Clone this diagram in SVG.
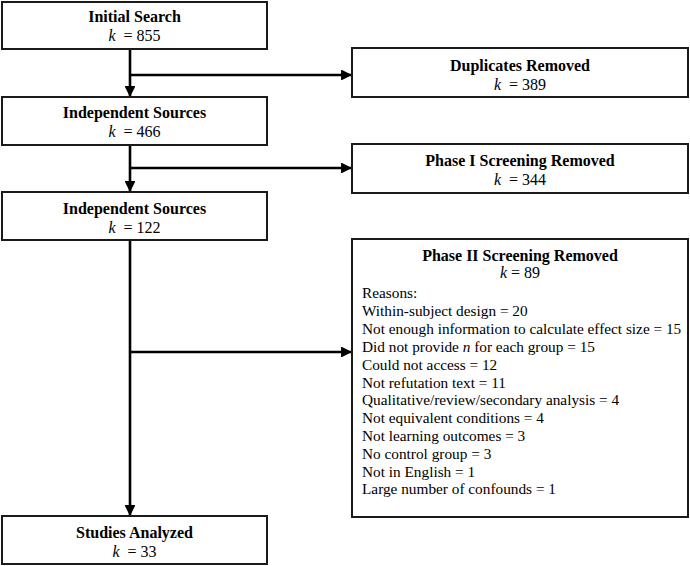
<svg xmlns="http://www.w3.org/2000/svg" width="690" height="566" viewBox="0 0 690 566">
<defs>
<marker id="ah" viewBox="0 0 10 10" refX="10" refY="5" markerWidth="4.2" markerHeight="4.2" markerUnits="strokeWidth" orient="auto">
<path d="M0,0 L10,5 L0,10 z" fill="#000"/>
</marker>
<style>
.box{fill:#fff;stroke:#1a1a1a;stroke-width:2}
.t{font-family:"Liberation Serif","Times New Roman",serif;font-size:16px;fill:#000;text-anchor:middle}
.b{font-weight:bold}
.i{font-style:italic}
.r{font-family:"Liberation Serif","Times New Roman",serif;font-size:15.3px;fill:#000}
.c{fill:none;stroke:#000;stroke-width:2.6}
</style>
</defs>
<rect width="690" height="566" fill="#fff"/>
<g id="connectors">
<line class="c" x1="130" y1="49" x2="130" y2="97" marker-end="url(#ah)"/>
<line class="c" x1="130" y1="75" x2="352" y2="75" marker-end="url(#ah)"/>
<line class="c" x1="130" y1="145" x2="130" y2="192" marker-end="url(#ah)"/>
<line class="c" x1="130" y1="168" x2="352" y2="168" marker-end="url(#ah)"/>
<line class="c" x1="130" y1="240" x2="130" y2="516" marker-end="url(#ah)"/>
<line class="c" x1="130" y1="352" x2="352" y2="352" marker-end="url(#ah)"/>
</g>
<g id="initial">
<rect class="box" x="2" y="2" width="265" height="47"/>
<text class="t b" x="134.5" y="22">Initial Search</text>
<text class="t" x="134.5" y="41"><tspan class="i">k</tspan><tspan dx="4"> = 855</tspan></text>
</g>
<g id="independent1">
<rect class="box" x="2" y="97" width="265" height="48"/>
<text class="t b" x="134.5" y="118">Independent Sources</text>
<text class="t" x="134.5" y="137"><tspan class="i">k</tspan><tspan dx="4"> = 466</tspan></text>
</g>
<g id="independent2">
<rect class="box" x="2" y="192" width="265" height="48"/>
<text class="t b" x="134.5" y="214">Independent Sources</text>
<text class="t" x="134.5" y="233"><tspan class="i">k</tspan><tspan dx="4"> = 122</tspan></text>
</g>
<g id="analyzed">
<rect class="box" x="2" y="516" width="265" height="48"/>
<text class="t b" x="134.5" y="538">Studies Analyzed</text>
<text class="t" x="134.5" y="557"><tspan class="i">k</tspan><tspan dx="4"> = 33</tspan></text>
</g>
<g id="duplicates">
<rect class="box" x="352" y="48" width="336" height="49"/>
<text class="t b" x="520" y="71">Duplicates Removed</text>
<text class="t" x="520" y="90"><tspan class="i">k</tspan><tspan dx="4"> = 389</tspan></text>
</g>
<g id="phase1">
<rect class="box" x="352" y="144" width="336" height="49"/>
<text class="t b" x="520" y="166">Phase I Screening Removed</text>
<text class="t" x="520" y="185"><tspan class="i">k</tspan><tspan dx="4"> = 344</tspan></text>
</g>
<g id="phase2">
<rect class="box" x="352" y="239" width="336" height="278"/>
<text class="t b" x="520" y="261">Phase II Screening Removed</text>
<text class="t" x="520" y="278"><tspan class="i">k</tspan> = 89</text>
<text class="r" x="362" y="298">Reasons:</text>
<text class="r" x="362" y="316">Within-subject design = 20</text>
<text class="r" x="362" y="334">Not enough information to calculate effect size = 15</text>
<text class="r" x="362" y="352">Did not provide <tspan class="i">n</tspan> for each group = 15</text>
<text class="r" x="362" y="370">Could not access = 12</text>
<text class="r" x="362" y="388">Not refutation text = 11</text>
<text class="r" x="362" y="405">Qualitative/review/secondary analysis = 4</text>
<text class="r" x="362" y="423">Not equivalent conditions = 4</text>
<text class="r" x="362" y="441">Not learning outcomes = 3</text>
<text class="r" x="362" y="459">No control group = 3</text>
<text class="r" x="362" y="477">Not in English = 1</text>
<text class="r" x="362" y="494">Large number of confounds = 1</text>
</g>
</svg>
